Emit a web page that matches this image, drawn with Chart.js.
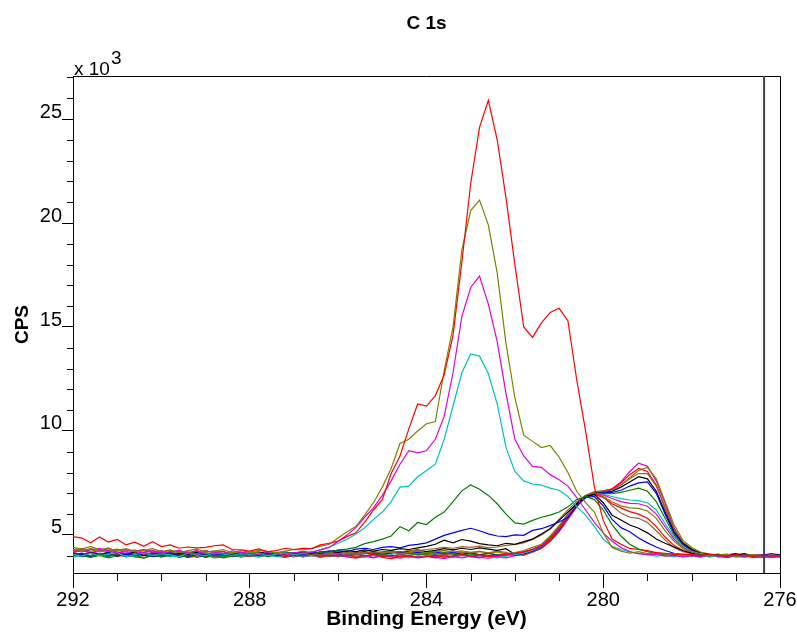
<!DOCTYPE html>
<html>
<head>
<meta charset="utf-8">
<title>C 1s</title>
<script src="https://cdn.jsdelivr.net/npm/chart.js@4.4.1/dist/chart.umd.min.js"></script>
<style>
  html, body { margin: 0; padding: 0; background: #fff; }
  canvas { display: block; }
</style>
</head>
<body>
<canvas id="chart" width="797" height="632"></canvas>
<script>
// binding energy grid (eV), one row of ten per line
const energy = [
  292, 291.8, 291.6, 291.4, 291.2, 291, 290.8, 290.6, 290.4, 290.2,
  290, 289.8, 289.6, 289.4, 289.2, 289, 288.8, 288.6, 288.4, 288.2,
  288, 287.8, 287.6, 287.4, 287.2, 287, 286.8, 286.6, 286.4, 286.2,
  286, 285.8, 285.6, 285.4, 285.2, 285, 284.8, 284.6, 284.4, 284.2,
  284, 283.8, 283.6, 283.4, 283.2, 283, 282.8, 282.6, 282.4, 282.2,
  282, 281.8, 281.6, 281.4, 281.2, 281, 280.8, 280.6, 280.4, 280.2,
  280, 279.8, 279.6, 279.4, 279.2, 279, 278.8, 278.6, 278.4, 278.2,
  278, 277.8, 277.6, 277.4, 277.2, 277, 276.8, 276.6, 276.4, 276.2,
  276
];

// CPS in thousands, one array per spectrum
const s01 = [
  4.92, 4.85, 4.62, 4.90, 4.66, 4.78, 4.52, 4.65, 4.45, 4.68,
  4.44, 4.52, 4.36, 4.42, 4.38, 4.40, 4.48, 4.52, 4.30, 4.28,
  4.22, 4.33, 4.20, 4.25, 4.36, 4.30, 4.36, 4.34, 4.52, 4.60,
  4.70, 4.92, 5.10, 5.60, 6.20, 6.70, 7.95, 8.80, 10.10, 11.30,
  11.20, 11.70, 12.70, 14.60, 18.10, 21.90, 24.60, 25.90, 24.00, 21.20,
  18.00, 15.00, 14.50, 15.20, 15.70, 15.90, 15.30, 12.45, 10.00, 7.30,
  5.70, 4.80, 4.55, 4.35, 4.30, 4.25, 4.15, 4.12, 4.05, 4.08,
  4.05, 4.00, 4.08, 4.02, 3.98, 4.05, 4.00, 3.95, 4.02, 4.00,
  3.98
];
const s02 = [
  4.40, 4.32, 4.45, 4.28, 4.36, 4.22, 4.30, 4.18, 4.26, 4.34,
  4.20, 4.28, 4.15, 4.25, 4.32, 4.18, 4.22, 4.30, 4.15, 4.24,
  4.18, 4.26, 4.20, 4.14, 4.22, 4.30, 4.28, 4.35, 4.45, 4.55,
  4.85, 5.15, 5.40, 5.95, 6.55, 7.30, 8.20, 9.40, 9.60, 10.00,
  10.35, 10.45, 12.90, 15.00, 18.70, 20.60, 21.10, 19.90, 17.60, 14.20,
  11.60, 9.80, 9.50, 9.20, 9.30, 8.75, 8.00, 7.10, 6.55, 6.10,
  5.10, 4.40, 4.22, 4.12, 4.20, 4.10, 4.15, 4.08, 4.12, 4.02,
  4.05, 4.10, 3.98, 4.04, 4.08, 3.96, 4.02, 4.06, 3.98, 4.04,
  4.00
];
const s03 = [
  4.25, 4.18, 4.30, 4.35, 4.22, 4.12, 4.28, 4.20, 4.15, 4.24,
  4.12, 4.20, 4.26, 4.14, 4.08, 4.22, 4.18, 4.10, 4.24, 4.16,
  4.12, 4.06, 4.18, 4.10, 4.02, 4.14, 4.20, 4.16, 4.28, 4.40,
  4.70, 5.00, 5.35, 5.85, 6.30, 6.90, 7.60, 8.40, 9.05, 8.95,
  9.05, 9.60, 10.70, 12.80, 15.50, 16.90, 17.45, 16.10, 14.30, 11.80,
  9.60, 8.80, 8.30, 8.25, 7.90, 7.65, 7.35, 6.80, 6.20, 5.60,
  5.10, 4.70, 4.40, 4.20, 4.10, 4.05, 4.08, 3.98, 4.02, 3.95,
  4.00, 3.95, 4.04, 3.98, 3.94, 4.00, 3.96, 4.02, 3.98, 3.95,
  3.98
];
const s04 = [
  4.05, 3.98, 4.12, 4.00, 4.08, 4.15, 3.95, 4.06, 4.12, 4.02,
  4.10, 4.04, 3.96, 4.12, 4.06, 4.00, 4.14, 4.08, 4.02, 4.10,
  4.05, 4.12, 4.00, 4.08, 4.14, 4.06, 4.10, 4.18, 4.30, 4.42,
  4.60, 4.78, 5.05, 5.35, 5.75, 6.10, 6.60, 7.30, 7.35, 7.80,
  8.10, 8.40, 9.60, 11.20, 12.80, 13.70, 13.60, 12.75, 11.30, 9.20,
  8.05, 7.60, 7.45, 7.40, 7.25, 7.15, 6.85, 6.36, 5.95, 5.40,
  4.80, 4.45, 4.30, 4.18, 4.10, 4.05, 3.98, 4.02, 3.95, 4.00,
  3.96, 4.02, 3.94, 3.98, 4.04, 3.96, 3.92, 4.00, 3.97, 3.94,
  3.96
];
const s05 = [
  4.08, 4.00, 3.92, 4.05, 3.98, 4.10, 3.95, 4.02, 3.90, 4.04,
  3.98, 4.06, 3.92, 4.00, 4.08, 3.95, 4.03, 3.90, 3.98, 4.05,
  4.00, 4.08, 3.96, 4.04, 4.10, 4.02, 4.12, 4.06, 4.20, 4.18,
  4.28, 4.32, 4.40, 4.58, 4.68, 4.80, 4.95, 5.40, 5.20, 5.60,
  5.50, 5.85, 6.10, 6.60, 7.12, 7.40, 7.20, 6.90, 6.50, 6.00,
  5.58, 5.52, 5.70, 5.85, 5.95, 6.10, 6.35, 6.70, 6.85, 6.70,
  6.20, 5.50, 4.95, 4.55, 4.32, 4.20, 4.10, 4.05, 4.00, 3.96,
  3.98, 3.94, 4.00, 3.96, 3.92, 3.98, 4.02, 3.94, 3.96, 3.92,
  3.95
];
const s06 = [
  4.00, 4.10, 3.95, 4.05, 4.15, 3.98, 4.08, 4.02, 4.12, 3.96,
  4.05, 4.14, 4.00, 3.94, 4.08, 4.02, 4.10, 4.04, 3.98, 4.06,
  4.12, 4.04, 4.10, 4.00, 4.08, 4.14, 4.06, 4.18, 4.10, 4.22,
  4.25, 4.20, 4.32, 4.36, 4.30, 4.40, 4.44, 4.38, 4.50, 4.55,
  4.62, 4.80, 4.98, 5.10, 5.22, 5.32, 5.20, 5.05, 4.95, 4.92,
  5.00, 4.98, 5.22, 5.30, 5.45, 5.62, 5.85, 6.40, 6.80, 6.85,
  6.40, 5.75, 5.35, 5.15, 4.85, 4.62, 4.42, 4.25, 4.12, 4.05,
  4.02, 3.98, 4.04, 3.96, 4.00, 4.06, 3.98, 3.94, 4.02, 3.98,
  4.00
];
const s07 = [
  4.10, 4.02, 4.15, 4.06, 3.98, 4.12, 4.04, 4.18, 4.00, 4.08,
  4.14, 4.02, 4.10, 4.06, 4.16, 4.00, 4.12, 4.08, 4.04, 4.14,
  4.06, 4.12, 4.18, 4.08, 4.14, 4.10, 4.20, 4.12, 4.18, 4.22,
  4.16, 4.24, 4.20, 4.28, 4.22, 4.30, 4.26, 4.34, 4.30, 4.38,
  4.45, 4.55, 4.75, 4.62, 4.78, 4.70, 4.58, 4.52, 4.48, 4.60,
  4.55, 4.68, 4.80, 5.05, 5.30, 5.70, 6.10, 6.50, 6.85, 6.95,
  6.55, 5.95, 5.72, 5.48, 5.32, 5.10, 4.80, 4.60, 4.42, 4.25,
  4.12, 4.05, 4.00, 4.08, 3.98, 4.04, 4.10, 3.96, 4.02, 4.00,
  4.04
];
const s08 = [
  4.02, 4.10, 4.00, 4.12, 4.06, 3.96, 4.08, 4.14, 4.02, 3.98,
  4.08, 4.00, 4.12, 4.04, 3.98, 4.10, 4.02, 4.06, 4.12, 4.00,
  4.04, 4.10, 4.02, 4.08, 4.00, 4.06, 4.12, 4.04, 4.10, 4.08,
  4.14, 4.10, 4.18, 4.12, 4.20, 4.16, 4.22, 4.18, 4.26, 4.24,
  4.30, 4.34, 4.40, 4.36, 4.44, 4.40, 4.46, 4.38, 4.42, 4.50,
  4.55, 4.62, 4.78, 5.00, 5.30, 5.75, 6.20, 6.60, 6.90, 7.00,
  6.85, 6.40, 6.05, 5.85, 5.80, 5.60, 5.20, 4.75, 4.40, 4.20,
  4.10, 4.05, 3.98, 4.02, 4.06, 3.96, 4.00, 4.04, 3.98, 4.02,
  3.98
];
const s09 = [
  4.15, 4.06, 4.12, 4.00, 4.10, 4.04, 3.96, 4.08, 4.02, 4.12,
  4.00, 4.08, 4.04, 3.94, 4.06, 4.12, 3.98, 4.04, 4.10, 4.02,
  3.98, 4.06, 4.02, 4.10, 3.96, 4.04, 4.00, 4.08, 3.94, 4.02,
  3.98, 4.04, 3.92, 4.00, 4.06, 3.96, 4.02, 3.94, 4.00, 3.90,
  3.96, 4.02, 3.94, 4.00, 4.06, 3.98, 4.04, 3.96, 4.02, 4.08,
  4.12, 4.20, 4.30, 4.45, 4.80, 5.30, 5.85, 6.40, 6.80, 6.95,
  6.80, 6.50, 6.30, 6.12, 6.00, 5.80, 5.40, 4.90, 4.50, 4.25,
  4.10, 4.02, 3.96, 4.04, 3.98, 4.06, 4.00, 3.94, 4.02, 3.98,
  4.02
];
const s10 = [
  4.30, 4.22, 4.35, 4.18, 4.26, 4.32, 4.20, 4.28, 4.14, 4.24,
  4.18, 4.26, 4.12, 4.20, 4.08, 4.16, 4.24, 4.10, 4.18, 4.06,
  4.14, 4.20, 4.08, 4.16, 4.10, 4.04, 4.12, 4.18, 4.06, 4.14,
  4.10, 4.16, 4.08, 4.14, 4.20, 4.12, 4.18, 4.10, 4.16, 4.22,
  4.14, 4.20, 4.26, 4.18, 4.24, 4.16, 4.22, 4.12, 4.18, 4.10,
  4.15, 4.25, 4.40, 4.55, 4.95, 5.45, 6.00, 6.45, 6.80, 6.95,
  6.85, 6.60, 6.40, 6.30, 6.28, 6.15, 5.80, 5.20, 4.70, 4.35,
  4.15, 4.08, 4.02, 3.98, 4.05, 4.00, 3.96, 4.04, 3.98, 4.02,
  3.96
];
const s11 = [
  4.20, 4.32, 4.15, 4.25, 4.38, 4.18, 4.10, 4.22, 4.30, 4.14,
  4.24, 4.08, 4.18, 4.12, 4.26, 4.05, 4.16, 4.22, 4.02, 4.12,
  4.06, 4.14, 4.00, 4.10, 4.04, 4.12, 3.98, 4.08, 4.02, 4.10,
  4.04, 3.96, 4.06, 4.00, 3.92, 4.02, 3.96, 4.04, 3.98, 3.94,
  4.00, 3.96, 4.04, 3.94, 4.02, 3.98, 3.92, 4.00, 3.96, 4.04,
  4.10, 4.18, 4.32, 4.50, 4.85, 5.35, 5.95, 6.45, 6.85, 7.00,
  6.92, 6.75, 6.60, 6.52, 6.50, 6.38, 6.00, 5.40, 4.80, 4.40,
  4.18, 4.06, 4.00, 4.04, 3.96, 4.02, 3.98, 3.94, 4.00, 3.96,
  4.00
];
const s12 = [
  3.92, 4.05, 3.98, 4.10, 3.95, 4.02, 4.08, 3.96, 4.04, 3.98,
  4.06, 3.94, 4.02, 4.10, 3.98, 4.04, 3.92, 4.00, 4.08, 3.96,
  4.02, 3.96, 4.06, 3.94, 4.00, 4.08, 3.96, 4.02, 3.94, 4.00,
  3.96, 4.04, 3.98, 3.92, 4.02, 3.96, 4.06, 3.94, 3.90, 4.00,
  3.96, 4.02, 3.92, 3.98, 4.04, 3.94, 4.00, 3.96, 3.90, 3.98,
  4.05, 4.12, 4.25, 4.45, 4.80, 5.30, 5.90, 6.40, 6.80, 6.98,
  6.95, 6.85, 6.75, 6.68, 6.65, 6.55, 6.20, 5.55, 4.90, 4.45,
  4.20, 4.08, 4.02, 3.96, 4.00, 3.94, 3.98, 4.02, 3.96, 3.92,
  3.98
];
const s13 = [
  3.98, 4.06, 3.94, 4.02, 3.90, 4.00, 4.08, 3.96, 3.88, 4.02,
  3.94, 4.00, 4.06, 3.92, 3.98, 4.04, 3.90, 3.96, 4.02, 3.94,
  4.00, 3.94, 4.04, 3.98, 3.92, 4.02, 3.96, 4.06, 3.98, 4.04,
  3.96, 4.02, 4.08, 3.98, 4.04, 4.10, 4.00, 4.06, 4.12, 4.04,
  4.10, 4.06, 4.14, 4.08, 4.02, 4.10, 4.04, 3.98, 4.06, 4.00,
  4.08, 4.15, 4.28, 4.50, 4.90, 5.40, 6.00, 6.50, 6.88, 7.02,
  7.00, 6.98, 7.05, 7.15, 7.25, 7.10, 6.60, 5.80, 5.00, 4.50,
  4.22, 4.10, 4.04, 3.96, 4.02, 3.98, 4.04, 3.96, 3.92, 4.00,
  3.96
];
const s14 = [
  4.06, 3.96, 4.02, 4.10, 3.94, 4.04, 4.12, 3.98, 4.06, 4.00,
  3.96, 4.04, 4.10, 3.98, 4.06, 3.92, 4.02, 4.08, 3.96, 4.04,
  4.08, 4.00, 4.06, 4.12, 3.98, 4.04, 4.10, 4.02, 4.08, 4.14,
  4.06, 4.12, 4.04, 4.10, 4.16, 4.08, 4.14, 4.20, 4.10, 4.16,
  4.12, 4.18, 4.10, 4.16, 4.08, 4.14, 4.06, 4.12, 4.04, 4.10,
  4.02, 4.10, 4.22, 4.42, 4.78, 5.25, 5.85, 6.42, 6.85, 7.00,
  7.02, 7.05, 7.15, 7.35, 7.50, 7.55, 7.00, 6.00, 5.10, 4.55,
  4.25, 4.12, 4.05, 4.00, 3.96, 4.04, 3.98, 4.06, 4.02, 4.10,
  4.04
];
const s15 = [
  4.04, 4.12, 3.98, 4.06, 4.14, 4.00, 4.08, 3.96, 4.10, 4.02,
  4.08, 3.98, 4.06, 4.12, 4.00, 4.08, 3.94, 4.04, 4.10, 3.98,
  4.04, 4.10, 3.98, 4.06, 4.12, 4.02, 4.08, 4.14, 4.04, 4.10,
  4.16, 4.08, 4.14, 4.20, 4.12, 4.18, 4.24, 4.14, 4.22, 4.28,
  4.20, 4.26, 4.34, 4.28, 4.36, 4.30, 4.38, 4.32, 4.26, 4.34,
  4.06, 4.12, 4.26, 4.48, 4.85, 5.35, 5.95, 6.48, 6.88, 7.00,
  7.05, 7.10, 7.30, 7.55, 7.80, 7.70, 7.10, 6.10, 5.15, 4.60,
  4.30, 4.12, 4.06, 3.98, 4.04, 4.10, 4.00, 3.96, 4.02, 3.98,
  4.00
];
const s16 = [
  4.10, 4.02, 4.14, 4.06, 4.18, 4.00, 4.08, 4.12, 4.04, 4.16,
  4.06, 4.12, 4.00, 4.10, 4.04, 4.14, 4.02, 4.08, 3.98, 4.06,
  4.12, 4.04, 4.10, 4.00, 4.08, 4.14, 4.06, 4.12, 4.04, 4.10,
  4.06, 4.12, 4.18, 4.10, 4.16, 4.08, 4.14, 4.20, 4.12, 4.18,
  4.14, 4.22, 4.16, 4.24, 4.18, 4.12, 4.20, 4.14, 4.22, 4.16,
  4.00, 4.08, 4.20, 4.40, 4.75, 5.25, 5.85, 6.45, 6.90, 7.05,
  7.10, 7.15, 7.40, 7.70, 7.95, 7.95, 7.35, 6.30, 5.30, 4.65,
  4.32, 4.15, 4.04, 4.00, 3.98, 4.04, 3.96, 4.00, 4.06, 4.00,
  3.96
];
const s17 = [
  4.00, 4.08, 3.96, 4.04, 4.12, 3.98, 4.06, 3.94, 4.02, 4.10,
  3.96, 4.04, 4.00, 4.08, 3.92, 4.02, 4.10, 3.98, 4.06, 3.94,
  4.02, 3.96, 4.04, 4.10, 3.98, 4.06, 3.94, 4.00, 4.08, 3.96,
  4.00, 3.94, 3.88, 3.98, 4.04, 3.92, 3.86, 3.96, 4.02, 3.94,
  3.98, 3.90, 4.00, 3.94, 4.04, 3.96, 3.90, 4.02, 3.94, 4.06,
  4.12, 4.02, 4.18, 4.35, 4.70, 5.20, 5.80, 6.40, 6.85, 7.05,
  7.10, 7.20, 7.50, 7.90, 8.20, 8.05, 7.40, 6.30, 5.25, 4.60,
  4.30, 4.10, 3.96, 4.04, 3.94, 4.00, 3.98, 4.02, 3.96, 4.04,
  4.00
];
const s18 = [
  4.28, 4.36, 4.22, 4.30, 4.18, 4.26, 4.34, 4.20, 4.28, 4.16,
  4.24, 4.14, 4.22, 4.10, 4.18, 4.26, 4.12, 4.20, 4.08, 4.16,
  4.10, 4.18, 4.06, 4.14, 4.20, 4.08, 4.16, 4.10, 4.04, 4.12,
  4.08, 4.14, 4.06, 4.12, 4.04, 4.10, 4.16, 4.08, 4.02, 4.10,
  4.06, 4.12, 4.04, 4.10, 4.16, 4.08, 4.02, 4.10, 4.04, 4.00,
  4.04, 4.10, 4.22, 4.40, 4.72, 5.20, 5.82, 6.42, 6.90, 7.08,
  7.12, 7.18, 7.40, 7.75, 8.10, 8.25, 7.70, 6.60, 5.50, 4.75,
  4.40, 4.18, 4.08, 4.02, 3.98, 4.06, 4.00, 4.04, 3.98, 4.02,
  4.00
];
const s19 = [
  4.15, 4.28, 4.10, 4.22, 4.34, 4.12, 4.20, 4.08, 4.18, 4.26,
  4.10, 4.18, 4.04, 4.14, 4.22, 4.06, 4.12, 4.00, 4.10, 4.16,
  4.04, 4.12, 3.98, 4.08, 4.00, 3.94, 4.06, 4.00, 3.92, 4.02,
  3.96, 4.04, 3.92, 3.98, 3.90, 4.00, 3.94, 3.88, 3.96, 3.92,
  3.98, 3.92, 3.86, 3.96, 3.90, 3.98, 3.92, 3.88, 3.94, 3.90,
  4.00, 4.06, 4.18, 4.36, 4.70, 5.15, 5.75, 6.35, 6.85, 7.05,
  7.12, 7.22, 7.55, 8.05, 8.45, 8.30, 7.60, 6.50, 5.35, 4.65,
  4.30, 4.12, 4.04, 3.98, 4.02, 3.96, 4.00, 4.06, 3.98, 3.94,
  4.00
];

const spectra = [s01, s02, s03, s04, s05, s06, s07, s08, s09, s10,
  s11, s12, s13, s14, s15, s16, s17, s18, s19];
const palette = ['#ff0000', '#808000', '#e000e0', '#00c0c0',
  '#008000', '#0000ff', '#000000', '#a0602a'];

const xTicks = [292, 288, 284, 280, 276];
const yTicks = [5, 10, 15, 20, 25];
const xRange = [276, 292];
const yRange = [3.17, 27.07];
const markerEnergy = 276.36;

const FONT = 'Arial, "Liberation Sans", Helvetica, sans-serif';

const datasets = spectra.map((vals, i) => ({
  label: 'scan ' + (i + 1),
  data: energy.map((e, k) => ({ x: e, y: vals[k] })),
  borderColor: palette[i % palette.length],
  borderWidth: 1.2,
  pointRadius: 0,
  tension: 0,
  fill: false,
}));

// frame, minor ticks, marker line and the loose texts
const decor = {
  id: 'decor',
  afterDraw(chart) {
    const { ctx, chartArea: a, scales: { x, y } } = chart;
    ctx.save();
    ctx.strokeStyle = '#000';
    ctx.lineWidth = 1;
    ctx.beginPath();
    ctx.moveTo(a.left, a.top + 0.5);
    ctx.lineTo(a.right + 0.5, a.top + 0.5);
    ctx.lineTo(a.right + 0.5, a.bottom);
    ctx.stroke();

    ctx.beginPath();
    for (let v = xRange[0] + 1; v < xRange[1]; v++) {
      if (xTicks.includes(v)) continue;
      const px = Math.round(x.getPixelForValue(v)) + 0.5;
      ctx.moveTo(px, a.bottom);
      ctx.lineTo(px, a.bottom + 8);
    }
    for (let v = Math.ceil(yRange[0]); v < yRange[1]; v++) {
      if (yTicks.includes(v)) continue;
      const py = Math.round(y.getPixelForValue(v)) + 0.5;
      ctx.moveTo(a.left - 6, py);
      ctx.lineTo(a.left, py);
    }
    ctx.stroke();

    const mx = x.getPixelForValue(markerEnergy);
    ctx.strokeStyle = '#404040';
    ctx.lineWidth = 2;
    ctx.beginPath();
    ctx.moveTo(mx, a.top);
    ctx.lineTo(mx, a.bottom);
    ctx.stroke();

    ctx.fillStyle = '#000';
    ctx.textBaseline = 'alphabetic';
    ctx.textAlign = 'center';
    ctx.font = 'bold 19px ' + FONT;
    ctx.fillText('C 1s', (a.left + a.right) / 2, 29);

    ctx.textAlign = 'left';
    ctx.font = '19px ' + FONT;
    ctx.fillText('x 10', a.left + 1, 75);
    const w = ctx.measureText('x 10').width;
    ctx.fillText('3', a.left + 2 + w, 64);
    ctx.restore();
  }
};

new Chart(document.getElementById('chart'), {
  type: 'line',
  data: { datasets },
  options: {
    responsive: false,
    animation: false,
    devicePixelRatio: 1,
    layout: { padding: { top: 76, right: 17, left: 0, bottom: 0 } },
    plugins: { legend: { display: false }, tooltip: { enabled: false } },
    scales: {
      x: {
        type: 'linear',
        reverse: true,
        min: xRange[0],
        max: xRange[1],
        afterFit: (s) => { s.height = 59; },
        ticks: {
          stepSize: 4,
          autoSkip: false,
          maxRotation: 0,
          padding: 0,
          color: '#000',
          font: { family: FONT, size: 20 },
        },
        grid: { drawOnChartArea: false, tickLength: 15, color: '#000', tickColor: '#000' },
        border: { color: '#000', width: 1 },
        title: {
          display: true,
          text: 'Binding Energy (eV)',
          color: '#000',
          font: { family: FONT, size: 21, weight: 'bold' },
          padding: { top: 0, bottom: 0 },
        },
      },
      y: {
        min: yRange[0],
        max: yRange[1],
        afterFit: (s) => { s.width = 73; },
        ticks: {
          stepSize: 5,
          includeBounds: false,
          padding: 0,
          labelOffset: -7,
          color: '#000',
          font: { family: FONT, size: 20 },
        },
        grid: { drawOnChartArea: false, tickLength: 11, color: '#000', tickColor: '#000' },
        border: { color: '#000', width: 1 },
        title: {
          display: true,
          text: 'CPS',
          color: '#000',
          font: { family: FONT, size: 19, weight: 'bold' },
          padding: { top: 11, bottom: 0 },
        },
      },
    },
  },
  plugins: [decor],
});
</script>
</body>
</html>
